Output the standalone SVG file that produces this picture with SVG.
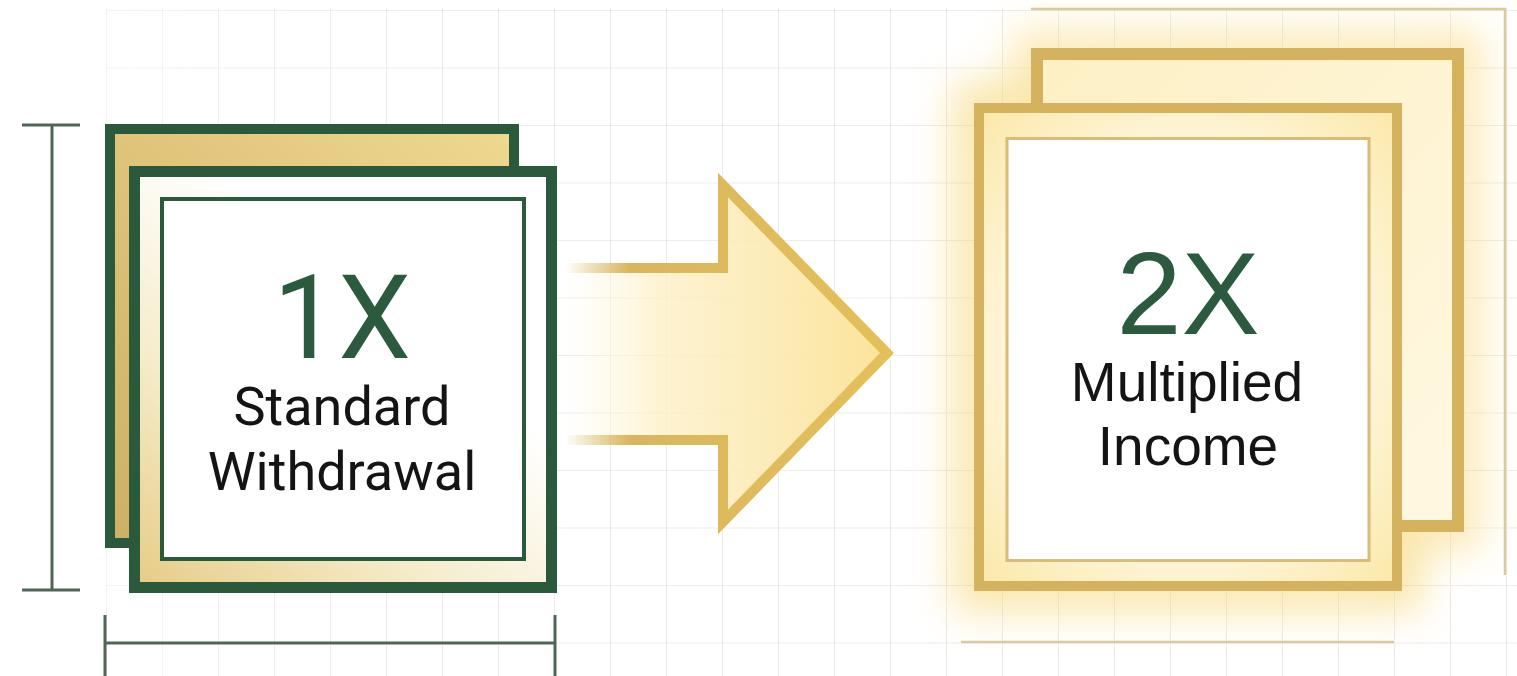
<svg xmlns="http://www.w3.org/2000/svg" width="1517" height="676" viewBox="0 0 1517 676">
  <defs>
    <style>
      .dim { stroke: #4f6656; stroke-width: 3; fill: none; }
      .gdim { stroke: #d3c28c; stroke-width: 2.5; fill: none; opacity: 0.85; }
      .green { stroke: #2a5a3b; }
      .gold { stroke: #d5b35e; }
      .big { font-size: 116px; fill: #2c5a3f; text-anchor: middle; }
      .lblL { font-family: Roboto, "Liberation Sans", sans-serif; font-size: 54px; fill: #141414; text-anchor: middle; }
      .lblR { font-family: "Liberation Sans", Arial, sans-serif; font-size: 55px; fill: #141414; text-anchor: middle; }
    </style>
    <pattern id="grid" patternUnits="userSpaceOnUse" x="50" y="10" width="56" height="57.5">
      <path d="M0 0 H56 M0 0 V57.5" stroke="#e6e6e6" stroke-width="1.6" fill="none"/>
    </pattern>
    <linearGradient id="gridFade" x1="0" y1="0" x2="1" y2="0">
      <stop offset="0" stop-color="#fff" stop-opacity="0.5"/>
      <stop offset="0.3" stop-color="#fff" stop-opacity="1"/>
    </linearGradient>
    <mask id="gridMask">
      <rect x="0" y="0" width="1517" height="676" fill="url(#gridFade)"/>
    </mask>
    <linearGradient id="goldBack" x1="0" y1="1" x2="1" y2="0">
      <stop offset="0" stop-color="#cdb063"/>
      <stop offset="0.6" stop-color="#e2c87e"/>
      <stop offset="1" stop-color="#efd98f"/>
    </linearGradient>
    <linearGradient id="frontBand" x1="0" y1="1" x2="0.8" y2="0">
      <stop offset="0" stop-color="#e6cb84"/>
      <stop offset="0.35" stop-color="#f6eccb"/>
      <stop offset="0.7" stop-color="#ffffff"/>
    </linearGradient>
    <linearGradient id="arrowFill" x1="0" y1="0" x2="1" y2="0">
      <stop offset="0" stop-color="#fff6d8" stop-opacity="0"/>
      <stop offset="0.3" stop-color="#fdf0c6" stop-opacity="0.8"/>
      <stop offset="1" stop-color="#fbe39a"/>
    </linearGradient>
    <linearGradient id="arrowStroke" x1="0" y1="0" x2="1" y2="0">
      <stop offset="0" stop-color="#d9b65e" stop-opacity="0"/>
      <stop offset="0.2" stop-color="#d9b65e" stop-opacity="1"/>
      <stop offset="1" stop-color="#e4c05a"/>
    </linearGradient>
    <radialGradient id="creamR" cx="0.5" cy="0.5" r="0.7">
      <stop offset="0.5" stop-color="#fff9e6"/>
      <stop offset="1" stop-color="#fbe8a8"/>
    </radialGradient>
    <linearGradient id="creamBack" x1="0" y1="0" x2="1" y2="1">
      <stop offset="0" stop-color="#fdf0c4"/>
      <stop offset="1" stop-color="#fff8e2"/>
    </linearGradient>
    <filter id="glow" x="-30%" y="-30%" width="160%" height="160%">
      <feGaussianBlur stdDeviation="20"/>
    </filter>
  </defs>

  <rect width="1517" height="676" fill="#ffffff"/>
  <rect x="106" y="8" width="1411" height="668" fill="url(#grid)" mask="url(#gridMask)"/>

  <!-- glow behind right node -->
  <g filter="url(#glow)" opacity="0.55">
    <rect x="1031" y="48" width="433" height="484" fill="none" stroke="#f7d469" stroke-width="34"/>
    <rect x="974" y="103" width="428" height="488" fill="none" stroke="#f5cf5c" stroke-width="40"/>
  </g>

  <!-- faint dimension lines on right -->
  <g id="dims-right">
    <path class="gdim" d="M1031 9 H1505 V575"/>
    <path class="gdim" d="M961 642 H1394"/>
  </g>

  <!-- dimension lines on left -->
  <g id="dims-left">
    <path class="dim" d="M52 125 V590 M22 125 H80 M22 590 H80"/>
    <path class="dim" d="M105 643 H555 M105 615 V676 M555 615 V676"/>
  </g>

  <g id="node-1x">
    <rect x="110" y="129" width="404" height="414" fill="url(#goldBack)" class="green" stroke-width="10"/>
    <rect x="134.5" y="171.5" width="417" height="416" fill="url(#frontBand)" class="green" stroke-width="11"/>
    <rect x="162" y="199" width="362" height="360" fill="#ffffff" class="green" stroke-width="4"/>
    <text class="big" x="342" y="358" style="font-family: Roboto, 'Liberation Sans', sans-serif;">1X</text>
    <text class="lblL" x="342" y="425">Standard</text>
    <text class="lblL" x="342" y="490">Withdrawal</text>
  </g>

  <g id="connectors">
    <path d="M565 268 L723 268 L723 185 L887 353 L723 522 L723 440 L565 440 Z" fill="url(#arrowFill)" stroke="none"/>
    <path d="M565 268 L723 268 L723 185 L887 353 L723 522 L723 440 L565 440" fill="none" stroke="url(#arrowStroke)" stroke-width="10" stroke-linejoin="miter"/>
  </g>

  <g id="node-2x">
    <rect x="1037" y="54" width="421" height="472" fill="url(#creamBack)" class="gold" stroke-width="12"/>
    <rect x="979" y="108" width="418" height="478" fill="url(#creamR)" class="gold" stroke-width="10"/>
    <rect x="1007" y="138.5" width="362" height="422" fill="#ffffff" stroke="#d8bc78" stroke-width="3"/>
    <text class="big" x="1188" y="334" style="font-family: 'Liberation Sans', Arial, sans-serif; font-size: 117px;">2X</text>
    <text class="lblR" x="1187" y="401">Multiplied</text>
    <text class="lblR" x="1188" y="465">Income</text>
  </g>
</svg>
